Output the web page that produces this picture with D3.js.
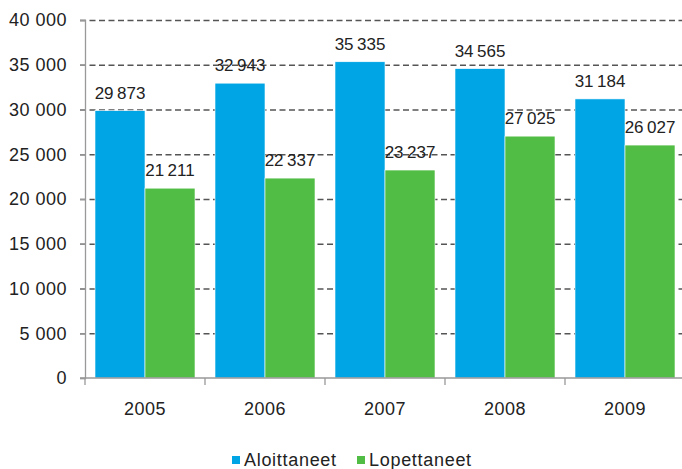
<!DOCTYPE html>
<html>
<head>
<meta charset="utf-8">
<script src="https://cdn.jsdelivr.net/npm/d3@7"></script>
<style>
  body { margin: 0; background: #fff; }
  svg text { font-family: "Liberation Sans", Arial, sans-serif; fill: #222; }
</style>
</head>
<body>
<svg id="chart" width="682" height="469"></svg>
<script>
const years = ['2005', '2006', '2007', '2008', '2009'];
const seriesNames = ['Aloittaneet', 'Lopettaneet'];
const aloittaneet = [29873, 32943, 35335, 34565, 31184];
const lopettaneet = [21211, 22337, 23237, 27025, 26027];
const yTicks = [0, 5000, 10000, 15000, 20000, 25000, 30000, 35000, 40000];
const colors = ['#00a5e5', '#52bd44'];

const svg = d3.select('#chart');
const plotLeft = 85, plotRight = 685, plotTop = 20, plotBottom = 378;

const x = d3.scaleBand().domain(years).range([plotLeft, plotRight]).paddingInner(0).paddingOuter(0);
const inner = d3.scaleBand().domain(seriesNames).range([0, x.bandwidth()]).paddingOuter(0.2);
const y = d3.scaleLinear().domain([0, 40000]).range([plotBottom, plotTop]);

// space as thousands separator
const fmtLabel = d => d3.format(',')(d).replace(/,/g, '\u2009');
const fmtAxis = d => d3.format(',')(d).replace(/,/g, ' ');

// dashed gridlines
svg.append('g')
    .selectAll('line')
    .data(yTicks.filter(d => d > 0))
    .join('line')
    .attr('x1', plotLeft - 5)
    .attr('x2', plotRight)
    .attr('y1', d => y(d) + 0.5)
    .attr('y2', d => y(d) + 0.5)
    .attr('stroke', '#555')
    .attr('stroke-width', 1.3)
    .attr('stroke-dasharray', '6,3.5');

// bars
const data = years.map((yr, i) => ({ year: yr, values: [aloittaneet[i], lopettaneet[i]] }));
const groups = svg.append('g').selectAll('g')
    .data(data)
    .join('g')
    .attr('transform', d => `translate(${x(d.year)},0)`);

groups.selectAll('rect')
    .data(d => d.values.map((v, j) => ({ name: seriesNames[j], value: v, j })))
    .join('rect')
    .attr('x', d => inner(d.name))
    .attr('width', inner.bandwidth())
    .attr('y', d => y(d.value))
    .attr('height', d => y(0) - y(d.value))
    .attr('fill', d => colors[d.j])
    .attr('stroke', '#fff')
    .attr('stroke-width', 0.6);

// value labels
groups.selectAll('text')
    .data(d => d.values.map((v, j) => ({ name: seriesNames[j], value: v })))
    .join('text')
    .attr('x', d => inner(d.name) + inner.bandwidth() / 2)
    .attr('y', d => y(d.value) - 12)
    .attr('text-anchor', 'middle')
    .attr('font-size', 17)
    .text(d => fmtLabel(d.value));

// y axis
const yAxis = svg.append('g')
    .attr('transform', `translate(${plotLeft},0)`)
    .call(d3.axisLeft(y).tickValues(yTicks).tickSize(5).tickPadding(13).tickFormat(fmtAxis));
yAxis.select('.domain').attr('stroke', '#999').attr('stroke-width', 1.3);
yAxis.selectAll('.tick line').attr('stroke', '#999').attr('stroke-width', 1.3);
yAxis.selectAll('text').attr('font-size', 18).attr('letter-spacing', 0.5).style('fill', '#222');

// x axis with ticks at category boundaries
const xAxis = svg.append('g')
    .attr('transform', `translate(0,${plotBottom})`);
xAxis.append('line')
    .attr('x1', plotLeft - 5).attr('x2', plotRight)
    .attr('stroke', '#999').attr('stroke-width', 1.3);
xAxis.selectAll('line.tk')
    .data(years.concat(['end']))
    .join('line')
    .attr('class', 'tk')
    .attr('x1', (d, i) => plotLeft + i * x.bandwidth())
    .attr('x2', (d, i) => plotLeft + i * x.bandwidth())
    .attr('y1', 0).attr('y2', 7)
    .attr('stroke', '#999').attr('stroke-width', 1.3);
xAxis.selectAll('text')
    .data(years)
    .join('text')
    .attr('x', d => x(d) + x.bandwidth() / 2)
    .attr('y', 37)
    .attr('text-anchor', 'middle')
    .attr('font-size', 18)
    .attr('letter-spacing', 0.5)
    .text(d => d);

// legend
const legend = svg.append('g').attr('transform', 'translate(232,466)');
const legendX = [0, 125];
seriesNames.forEach((name, i) => {
    const g = legend.append('g').attr('transform', `translate(${legendX[i]},0)`);
    g.append('rect').attr('x', 0).attr('y', -10).attr('width', 8).attr('height', 8).attr('fill', colors[i]);
    g.append('text').attr('x', 12).attr('y', 0).attr('font-size', 18).attr('letter-spacing', 0.7).text(name);
});
</script>
</body>
</html>
